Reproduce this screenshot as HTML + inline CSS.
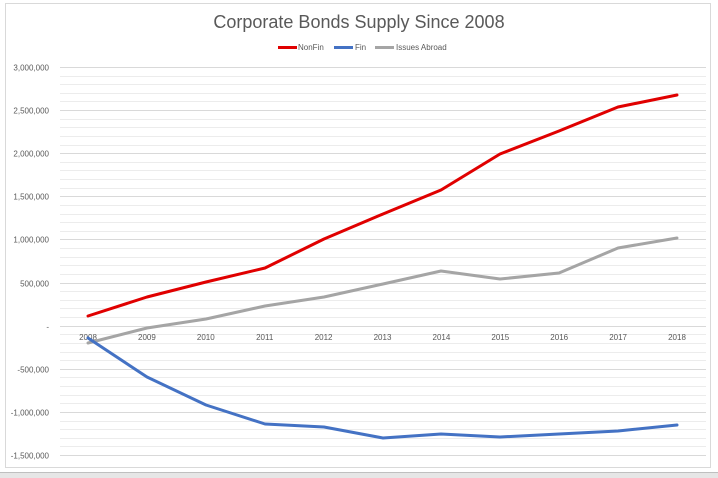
<!DOCTYPE html>
<html><head><meta charset="utf-8"><style>
html,body{margin:0;padding:0;background:#fff;width:718px;height:478px;overflow:hidden}
svg{display:block;font-family:"Liberation Sans",sans-serif}
</style></head><body>
<svg id="s" width="718" height="478" viewBox="0 0 718 478">
<rect x="0" y="0" width="718" height="478" fill="#fff"/>
<rect x="5.5" y="3.5" width="705" height="464" fill="#fff" stroke="#d9d9d9"/>
<rect x="0" y="472" width="718" height="6" fill="#e6e6e6"/>
<line x1="0" y1="472.5" x2="718" y2="472.5" stroke="#bfbfbf"/>
<g id="grid"></g>
<text x="359" y="28" text-anchor="middle" font-size="18" fill="#595959">Corporate Bonds Supply Since 2008</text>
<g font-size="8" fill="#595959">
<line x1="278" y1="47.5" x2="297" y2="47.5" stroke="#e00000" stroke-width="3"/>
<text x="298" y="50">NonFin</text>
<line x1="334" y1="47.5" x2="353" y2="47.5" stroke="#4472c4" stroke-width="3"/>
<text x="355" y="50">Fin</text>
<line x1="375" y1="47.5" x2="394" y2="47.5" stroke="#a5a5a5" stroke-width="3"/>
<text x="396" y="50">Issues Abroad</text>
</g>
<g id="ylab" font-size="8" fill="#595959" text-anchor="end"></g>
<g id="xlab" font-size="8" fill="#595959" text-anchor="middle"></g>
<polyline fill="none" stroke="#a5a5a5" stroke-width="3" stroke-linejoin="round" stroke-linecap="round" points="88,343 147,328 206,319 265,306 324,297 383,284 441,271 500,279 559,273 618,248 677,238"/>
<polyline fill="none" stroke="#4472c4" stroke-width="3" stroke-linejoin="round" stroke-linecap="round" points="88,338 147,377 206,405 265,424 324,427 383,438 441,434 500,437 559,434 618,431 677,425"/>
<polyline fill="none" stroke="#e00000" stroke-width="3" stroke-linejoin="round" stroke-linecap="round" points="88,316 147,297 206,282 265,268 324,239 383,214 441,190 500,154 559,131 618,107 677,95"/>
</svg>
<script>
(function(){
var ns="http://www.w3.org/2000/svg",g=document.getElementById('grid'),yl=document.getElementById('ylab'),xl=document.getElementById('xlab');
function el(t,a,p,txt){var e=document.createElementNS(ns,t);for(var k in a)e.setAttribute(k,a[k]);if(txt!=null)e.textContent=txt;p.appendChild(e);}
var t0=67,step=43.11/5;
for(var i=0;i<=45;i++){var y=Math.round(t0+i*step)+0.5;var major=i%5==0;
el('line',{x1:60,x2:706,y1:y,y2:y,stroke:major?'#d9d9d9':'#ececec','stroke-width':1},g);
if(major){var v=3000000-i/5*500000;var s=v==0?'-':v.toLocaleString('en-US');el('text',{x:49,y:y+3},yl,s);}}
for(var j=0;j<11;j++){el('text',{x:88+j*58.9,y:340},xl,String(2008+j));}
})();
</script>
</body></html>
